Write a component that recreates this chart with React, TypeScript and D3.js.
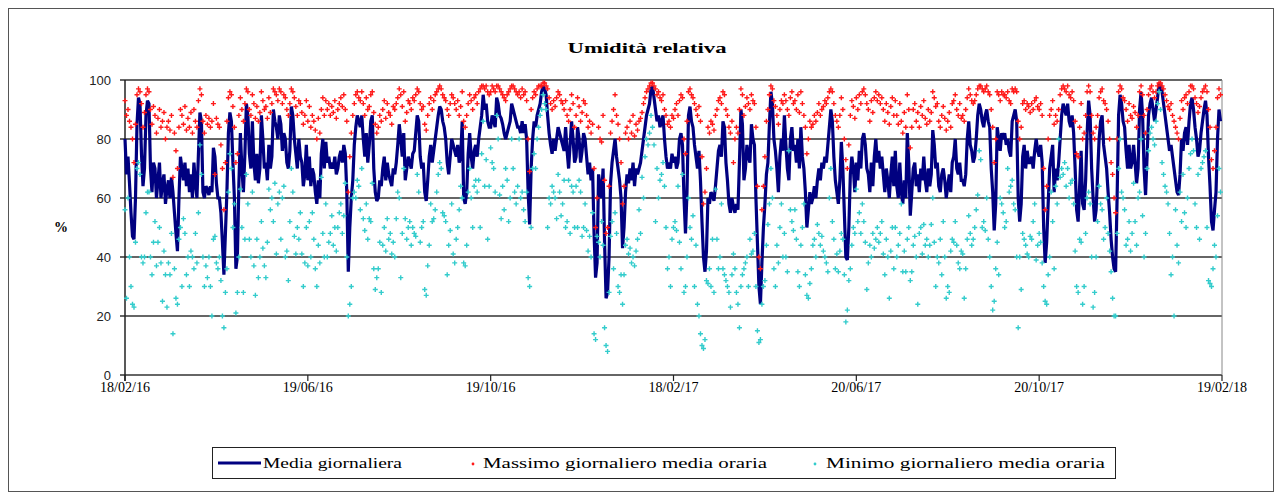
import React from "react";
import * as d3 from "d3";

// etichette asse x (gg/mm/aa) e tacche asse y
const xTickLabels = ["18/02/16", "19/06/16", "19/10/16", "18/02/17", "20/06/17", "20/10/17", "19/02/18"];
const yTicks = [0, 20, 40, 60, 80, 100];
const startDay = "18/02/16";

// Media giornaliera (%), un valore al giorno dal 18/02/16
const mediaGiornaliera = [
  80, 68, 74, 65, 55, 47, 46, 60, 85, 94,
  92, 75, 64, 70, 88, 93, 92, 70, 62, 72,
  70, 60, 66, 72, 60, 65, 68, 58, 63, 66,
  60, 67, 62, 55, 48, 42, 60, 74, 70, 66,
  72, 64, 70, 62, 68, 60, 72, 65, 60, 75,
  89, 86, 62, 60, 64, 63, 61, 64, 62, 77,
  74, 65, 60, 60, 55, 45, 34, 48, 62, 82,
  89, 86, 72,
  60, 36, 40, 65, 82, 70, 62, 75, 92, 88,
  75, 70, 86, 72, 66, 75, 65, 70, 88, 80,
  70, 72, 66, 78, 70, 74, 90, 86, 84, 80,
  88, 85, 76, 82, 80, 72, 70, 76, 91, 88,
  80, 75, 70, 80, 74, 72, 64, 68, 78, 66,
  74, 64, 70, 68, 62, 58, 66, 60, 75, 80,
  70, 79, 72, 74, 70, 72, 70, 74, 68, 70,
  74, 76, 72, 78,
  75, 62, 35, 50, 60, 66, 78, 84, 88, 86,
  84, 88, 80, 74, 82, 72, 78, 86, 88, 70,
  62, 59, 60, 66, 64, 70, 74, 66, 72, 68,
  66, 64, 70, 68, 72, 78, 85, 80, 74, 82,
  66, 70, 74, 72, 70, 75, 76, 82, 88, 86,
  74, 70, 72, 62, 59, 66, 74, 78, 72, 76,
  80, 84, 88, 91, 90, 86, 84, 80, 72, 68,
  74, 80, 78,
  76, 74, 78, 72, 74, 86, 60, 58, 62, 75,
  82, 74, 70, 76, 78, 74, 80, 84, 88, 95,
  90, 92, 86, 84, 84, 88, 86, 84, 94, 92,
  88, 87, 85, 82, 80, 82, 84, 86, 92, 90,
  88, 86, 84, 84, 82, 86, 82, 85, 80, 62,
  51, 70, 80, 86, 84, 88, 90, 92, 96, 98,
  97, 95, 88, 82, 78, 75, 80, 76, 80, 84,
  82, 80, 78, 76,
  84, 76, 70, 78, 86, 80, 72, 74, 84, 80,
  72, 76, 82, 80, 74, 68, 72, 66, 70, 48,
  33, 38, 68, 64, 60, 70, 45, 26, 28, 40,
  65, 72, 76, 80, 74, 70, 66, 60, 43, 50,
  62, 68, 65, 70, 66, 72, 64, 70, 68, 70,
  72, 76, 80, 84, 88, 90, 92, 97, 98, 94,
  90, 86, 88, 84, 86, 88, 80, 74, 70, 72,
  70, 75, 72,
  74, 70, 72, 80, 82, 78, 60, 48, 62, 88,
  91, 86, 84, 78, 74, 70, 76, 66, 52, 40,
  35, 42, 60, 58, 62, 61, 59, 64, 70, 76,
  78, 74, 86, 84, 72, 66, 58, 55, 60, 57,
  55, 58, 56, 72, 90, 85, 66, 70, 78, 74,
  72, 85, 80, 78, 60, 45, 30, 24, 38, 50,
  58, 68, 72, 85, 96, 92, 80, 76, 70, 62,
  74, 80, 76,
  88, 78, 70, 66, 80, 84, 76, 78, 72, 80,
  70, 84, 74, 70, 62, 50, 56, 62, 58, 60,
  64, 60, 66, 70, 66, 72, 70, 74, 72, 78,
  84, 90, 86, 74, 66, 62, 58, 66, 79, 70,
  55, 40, 39, 50, 68, 74, 70, 62, 72, 66,
  76, 70, 80, 82, 78, 70, 68, 62, 72, 64,
  74, 80, 72, 76, 70, 74, 68, 62, 70, 66,
  60, 68, 74, 64,
  76, 64, 60, 72, 62, 58, 66, 60, 82, 72,
  54, 62, 70, 72, 64, 68, 62, 70, 66, 74,
  66, 62, 70, 64, 68, 83, 78, 70, 72, 64,
  62, 68, 70, 66, 60, 64, 68, 62, 72, 74,
  80, 70, 68, 72, 66, 66, 64, 68, 80, 86,
  78, 76, 72, 74, 80, 88, 92, 90, 86, 84,
  88, 90, 86, 84, 70, 62, 49, 58, 84, 80,
  76, 82, 80,
  82, 78, 80, 76, 74, 86, 88, 90, 86, 60,
  52, 58, 74, 78, 70, 76, 72, 72, 74, 70,
  76, 80, 76, 74, 78, 72, 50, 38, 45, 58,
  70, 74, 78, 62, 70, 66, 72, 80, 88, 92,
  90, 88, 92, 86, 84, 88, 82, 70, 56, 52,
  64, 76, 58, 56, 66, 82, 93, 88, 70, 60,
  52, 56, 68, 80, 86, 88, 78, 74, 70, 62,
  55, 46, 40, 36,
  35, 60, 88, 95, 92, 86, 84, 76, 70, 78,
  70, 72, 78, 72, 65, 70, 90, 96, 88, 70,
  61, 74, 88, 92, 94, 90, 86, 90, 94, 99,
  98, 96, 92, 88, 84, 80, 76, 78, 74, 70,
  66, 62, 61, 68, 80, 76, 82, 84, 78, 86,
  92, 94, 90, 84, 80, 74, 76, 82, 86, 90,
  93, 88, 74, 64, 52, 49, 56, 62, 80, 90,
  86,
];

// Massimo giornaliero della media oraria (%)
const massimoGiornaliero = [
  93, 88, 90, 86, 84, 80, 72, 85, 95, 97,
  96, 92, 84, 89, 95, 97, 96, 90, 85, 91,
  88, 82, 87, 90, 84, 86, 89, 80, 84, 86,
  83, 88, 67, 82, 76, 70, 84, 90, 88, 85,
  91, 83, 87, 84, 89, 82, 90, 86, 84, 93,
  97, 95, 86, 82, 88, 85, 87, 84, 86, 92,
  68, 87, 85, 84, 78, 70, 56, 72, 86, 94,
  96, 95, 91,
  84, 72, 75, 88, 94, 90, 86, 92, 97, 96,
  90, 88, 95, 92, 87, 91, 86, 89, 96, 93,
  90, 91, 87, 94, 89, 92, 97, 96, 95, 93,
  97, 96, 92, 95, 94, 90, 88, 92, 97, 96,
  94, 91, 88, 93, 92, 89, 85, 88, 93, 86,
  91, 84, 88, 86, 83, 80, 87, 82, 90, 94,
  88, 93, 90, 92, 88, 91, 89, 93, 87, 90,
  92, 94, 91, 95,
  90, 86, 62, 74, 82, 88, 92, 95, 96, 94,
  93, 96, 92, 88, 94, 90, 91, 95, 96, 89,
  85, 82, 84, 88, 86, 90, 93, 87, 92, 89,
  88, 85, 91, 90, 92, 94, 97, 95, 91, 96,
  86, 89, 93, 92, 90, 94, 93, 95, 97, 96,
  92, 90, 91, 85, 83, 88, 92, 94, 90, 93,
  95, 96, 97, 98, 97, 95, 94, 93, 90, 88,
  92, 95, 94,
  92, 90, 93, 88, 91, 96, 86, 84, 88, 92,
  95, 93, 90, 94, 95, 92, 96, 97, 98, 98,
  97, 98, 96, 95, 96, 98, 97, 96, 98, 98,
  97, 96, 95, 94, 93, 95, 96, 97, 98, 98,
  97, 96, 95, 96, 94, 97, 95, 96, 93, 80,
  69, 90, 94, 96, 95, 97, 98, 98, 98, 99,
  99, 98, 97, 94, 92, 90, 93, 91, 94, 96,
  95, 93, 92, 90,
  93, 88, 86, 90, 95, 92, 84, 88, 94, 91,
  86, 89, 93, 92, 88, 84, 86, 82, 85, 70,
  50, 60, 84, 80, 79, 88, 66, 48, 50, 64,
  82, 86, 90, 95, 88, 85, 80, 72, 58, 64,
  82, 84, 80, 86, 82, 88, 81, 85, 83, 86,
  87, 89, 92, 94, 96, 97, 98, 99, 99, 98,
  97, 95, 96, 94, 93, 95, 90, 88, 85, 86,
  84, 88, 87,
  90, 92, 88, 93, 95, 94, 80, 75, 86, 96,
  97, 95, 94, 92, 90, 88, 91, 86, 74, 58,
  62, 70, 84, 82, 86, 85, 83, 88, 90, 93,
  94, 92, 96, 95, 90, 88, 84, 82, 86, 72,
  80, 84, 82, 90, 97, 95, 88, 91, 94, 92,
  90, 95, 93, 92, 84, 64, 40, 36, 56, 64,
  74, 86, 90, 95, 98, 97, 93, 91, 88, 85,
  90, 93, 92,
  95, 93, 90, 88, 94, 96, 92, 93, 90, 95,
  89, 96, 92, 88, 84, 75, 80, 86, 84, 85,
  88, 86, 89, 92, 88, 90, 91, 93, 92, 94,
  96, 97, 96, 92, 88, 86, 84, 88, 94, 90,
  80, 73, 70, 78, 88, 93, 91, 87, 94, 90,
  95, 92, 96, 97, 95, 92, 90, 86, 93, 89,
  94, 96, 93, 95, 92, 94, 90, 86, 92, 89,
  85, 91, 94, 88,
  93, 88, 85, 92, 86, 82, 89, 84, 95, 90,
  77, 84, 90, 92, 86, 89, 84, 91, 88, 93,
  87, 85, 90, 86, 89, 96, 94, 91, 92, 86,
  84, 88, 91, 87, 83, 86, 89, 84, 92, 93,
  95, 90, 88, 92, 87, 88, 86, 90, 94, 97,
  95, 93, 92, 93, 95, 97, 98, 98, 97, 96,
  97, 98, 96, 95, 90, 84, 72, 80, 96, 95,
  93, 96, 95,
  95, 94, 96, 93, 92, 97, 96, 97, 96, 86,
  80, 84, 92, 93, 90, 92, 91, 89, 92, 90,
  93, 94, 91, 90, 92, 88, 70, 56, 64, 80,
  88, 90, 93, 85, 88, 86, 90, 95, 97, 98,
  97, 96, 98, 95, 94, 96, 93, 86, 75, 74,
  84, 92, 80, 82, 88, 96, 98, 96, 88, 82,
  80, 84, 88, 94, 96, 97, 93, 92, 90, 86,
  80, 72, 68, 60,
  55, 80, 96, 98, 97, 94, 93, 90, 86, 92,
  88, 87, 91, 89, 84, 88, 96, 98, 95, 88,
  82, 90, 95, 97, 98, 96, 94, 96, 98, 99,
  99, 98, 97, 95, 93, 91, 90, 92, 88, 86,
  84, 82, 80, 87, 93, 90, 94, 95, 92, 96,
  98, 98, 97, 94, 92, 89, 91, 94, 96, 97,
  98, 96, 90, 84, 73, 70, 76, 84, 94, 97,
  95,
];

// Minimo giornaliero della media oraria (%)
const minimoGiornaliero = [
  56, 26, 60, 40, 30, 24, 23, 45, 70, 72,
  68, 40, 38, 40, 55, 62, 62, 40, 34, 45,
  52, 37, 45, 50, 38, 25, 42, 34, 23, 38,
  34, 48, 14, 36, 26, 24, 46, 50, 30, 53,
  48, 34, 40, 30, 42, 40, 36, 48, 38, 55,
  78, 68, 40, 30, 37, 33, 40, 30, 20, 46,
  47, 38, 36, 40, 32, 20, 16, 28, 36, 62,
  75, 70, 50,
  58, 21, 28, 40, 63, 50, 28, 46, 68, 58,
  46, 40, 62, 37, 27, 46, 33, 40, 52, 43,
  37, 33, 45, 63, 56, 60, 52, 65, 41, 58,
  62, 46, 60, 64, 40, 42, 32, 52, 70, 62,
  47, 41, 50, 46, 55, 41, 30, 38, 50, 37,
  52, 40, 55, 46, 36, 30, 44, 38, 67, 48,
  40, 58, 40, 45, 48, 54, 44, 50, 42, 50,
  55, 58, 48, 54,
  65, 40, 20, 24, 30, 60, 62, 60, 66, 64,
  56, 70, 53, 49, 58, 46, 53, 52, 65, 36,
  29, 33, 36, 45, 28, 44, 50, 42, 53, 46,
  48, 41, 45, 40, 53, 62, 60, 33, 48, 70,
  53, 46, 50, 52, 44, 50, 48, 47, 68, 62,
  45, 50, 52, 29, 27, 37, 44, 58, 52, 53,
  56, 62, 68, 72, 70, 55, 54, 52, 34, 44,
  49, 58, 41,
  38, 46, 50, 56, 64, 60, 38, 37, 44, 62,
  70, 60, 50, 64, 66, 62, 66, 50, 75, 86,
  64, 73, 46, 64, 77, 72, 70, 62, 88, 80,
  61, 53, 64, 56, 70, 66, 52, 60, 80, 70,
  62, 58, 64, 80, 60, 62, 56, 52, 62, 33,
  30, 50, 70, 75, 70, 80, 84, 88, 90, 95,
  92, 90, 50, 60, 58, 64, 62, 60, 53, 68,
  62, 54, 58, 66,
  50, 52, 66, 48, 64, 62, 50, 64, 50, 66,
  62, 47, 50, 58, 49, 42, 47, 40, 55, 14,
  12, 47, 45, 40, 52, 44, 16, 10, 8, 28,
  47, 52, 36, 55, 48, 30, 28, 34, 24, 34,
  44, 46, 41, 43, 38, 40, 37, 42, 46, 56,
  48, 67, 60, 74, 80, 78, 82, 88, 84, 78,
  52, 70, 60, 66, 68, 72, 64, 50, 36, 40,
  30, 46, 50,
  52, 49, 64, 45, 36, 68, 28, 30, 40, 60,
  50, 46, 54, 30, 44, 24, 20, 14, 10, 9,
  12, 32, 31, 36, 30, 46, 28, 63, 46, 36,
  40, 58, 36, 34, 32, 30, 28, 23, 34, 41,
  36, 28, 24, 16, 30, 34, 36, 38, 40, 30,
  46, 41, 42, 48, 30, 15, 11, 12, 24, 30,
  32, 44, 51, 58, 70, 60, 36, 30, 44, 38,
  50, 58, 40,
  48, 40, 35, 76, 56, 52, 49, 56, 46, 35,
  30, 44, 50, 58, 34, 27, 26, 31, 36, 44,
  46, 40, 51, 48, 44, 47, 42, 40, 38, 35,
  60, 70, 52, 46, 36, 41, 35, 42, 48, 46,
  34, 18, 22, 32, 36, 44, 50, 48, 63, 52,
  55, 48, 58, 52, 45, 29, 38, 44, 40, 48,
  43, 46, 50, 45, 48, 52, 41, 34, 46, 40,
  26, 42, 50, 36,
  50, 40, 44, 48, 58, 35, 42, 35, 46, 50,
  32, 35, 44, 47, 40, 24, 48, 50, 41, 51,
  44, 46, 40, 44, 51, 60, 45, 30, 40, 38,
  46, 34, 52, 40, 26, 30, 28, 42, 46, 45,
  52, 44, 38, 36, 42, 41, 26, 36, 46, 54,
  48, 44, 46, 50, 56, 61, 76, 73, 50, 52,
  49, 60, 46, 40, 30, 22, 25, 36, 45, 34,
  60, 58, 55,
  50, 52, 70, 62, 64, 66, 58, 56, 40, 16,
  40, 29, 48, 46, 44, 41, 40, 47, 46, 52,
  58, 39, 44, 48, 45, 38, 30, 25, 24, 34,
  40, 62, 52, 36, 64, 58, 80, 67, 70, 68,
  72, 64, 70, 60, 65, 66, 58, 42, 30, 28,
  46, 45, 24, 30, 48, 60, 62, 58, 40, 23,
  28, 40, 52, 64, 58, 56, 46, 50, 60, 48,
  42, 35, 26, 20,
  20, 48, 70, 80, 62, 60, 56, 44, 46, 52,
  42, 48, 65, 52, 44, 60, 62, 80, 54, 40,
  48, 70, 76, 82, 84, 80, 78, 86, 92, 96,
  90, 72, 68, 64, 62, 58, 48, 34, 40, 20,
  56, 44, 38, 62, 52, 68, 55, 50, 60, 70,
  75, 80, 76, 58, 50, 68, 46, 70, 72, 74,
  76, 50, 32, 31, 30, 36, 44, 40, 54, 70,
  62,
];

const legendLabels = ["Media giornaliera", "Massimo giornaliero media oraria", "Minimo giornaliero media oraria"];

const W = 1282;
const H = 492;
const plot = { left: 125, right: 1222, top: 80, bottom: 375 };
const serif = "'Liberation Serif', 'Times New Roman', serif";
const sans = "'Liberation Sans', Arial, sans-serif";
const NAVY = "#000080";
const RED = "#ff1a1a";
const CYAN = "#33cccc";

const parse = d3.utcParse("%d/%m/%y");
const day0 = parse(startDay) as Date;
const toDate = (i: number) => d3.utcDay.offset(day0, i);

const plus = "M-2.5,0H2.5M0,-2.5V2.5";

export default function App() {
  const tickDates = xTickLabels.map((s) => parse(s) as Date);
  const x = d3.scaleUtc().domain([tickDates[0], tickDates[tickDates.length - 1]]).range([plot.left, plot.right]);
  const y = d3.scaleLinear().domain([0, 100]).range([plot.bottom, plot.top]);

  const linePath = d3.line<number>()
    .x((_, i) => x(toDate(i)))
    .y((d) => y(d))(mediaGiornaliera) || "";

  return (
    <svg width={W} height={H} style={{ position: "absolute", left: 0, top: 0, background: "#fff" }}>
      <rect x={8.5} y={8.5} width={W - 17} height={H - 9} fill="#fff" stroke="#555" strokeWidth={1} />

      <text x={647} y={53} textAnchor="middle" fontFamily={serif} fontWeight="bold" fontSize={15}
        textLength={159} lengthAdjust="spacingAndGlyphs">Umidità relativa</text>

      {/* griglia orizzontale */}
      {yTicks.map((t) => (
        <g key={t}>
          <line x1={plot.left - 5} x2={plot.right} y1={y(t)} y2={y(t)} stroke="#333" strokeWidth={t === 0 ? 1.5 : 1.3} />
          <text x={111} y={y(t) + 4.5} textAnchor="end" fontFamily={sans} fontSize={13} fill="#222">{t}</text>
        </g>
      ))}
      <line x1={plot.right} x2={plot.right} y1={plot.top} y2={plot.bottom} stroke="#888" strokeWidth={1} />
      <line x1={plot.left} x2={plot.left} y1={plot.top} y2={plot.bottom + 6} stroke="#222" strokeWidth={1.5} />

      <text x={61} y={232} textAnchor="middle" fontFamily={serif} fontWeight="bold" fontSize={14}>%</text>

      {/* asse x */}
      {tickDates.map((d, i) => (
        <g key={xTickLabels[i]}>
          <line x1={x(d)} x2={x(d)} y1={plot.bottom} y2={plot.bottom + 6} stroke="#222" strokeWidth={1.2} />
          <text x={x(d)} y={392} textAnchor="middle" fontFamily={serif} fontSize={14}
            textLength={50} lengthAdjust="spacingAndGlyphs">{xTickLabels[i]}</text>
        </g>
      ))}

      {/* serie */}
      <path d={linePath} fill="none" stroke={NAVY} strokeWidth={3.2} strokeLinejoin="miter" strokeMiterlimit={2} />
      <g stroke={RED} strokeWidth={1.4}>
        {massimoGiornaliero.map((v, i) => (
          <path key={i} d={plus} transform={`translate(${x(toDate(i))},${y(v)})`} />
        ))}
      </g>
      <g stroke={CYAN} strokeWidth={1.4}>
        {minimoGiornaliero.map((v, i) => (
          <path key={i} d={plus} transform={`translate(${x(toDate(i))},${y(v)})`} />
        ))}
      </g>

      {/* legenda */}
      <rect x={212.5} y={447.5} width={903} height={31} fill="#fff" stroke="#222" strokeWidth={1} />
      <line x1={218} x2={261} y1={463} y2={463} stroke={NAVY} strokeWidth={3} />
      <text x={263} y={468} fontFamily={serif} fontSize={15} textLength={139} lengthAdjust="spacingAndGlyphs">{legendLabels[0]}</text>
      <circle cx={473} cy={464} r={1.4} fill={RED} />
      <text x={483} y={468} fontFamily={serif} fontSize={15} textLength={284} lengthAdjust="spacingAndGlyphs">{legendLabels[1]}</text>
      <circle cx={815} cy={464} r={1.4} fill={CYAN} />
      <text x={826} y={468} fontFamily={serif} fontSize={15} textLength={279} lengthAdjust="spacingAndGlyphs">{legendLabels[2]}</text>
    </svg>
  );
}
